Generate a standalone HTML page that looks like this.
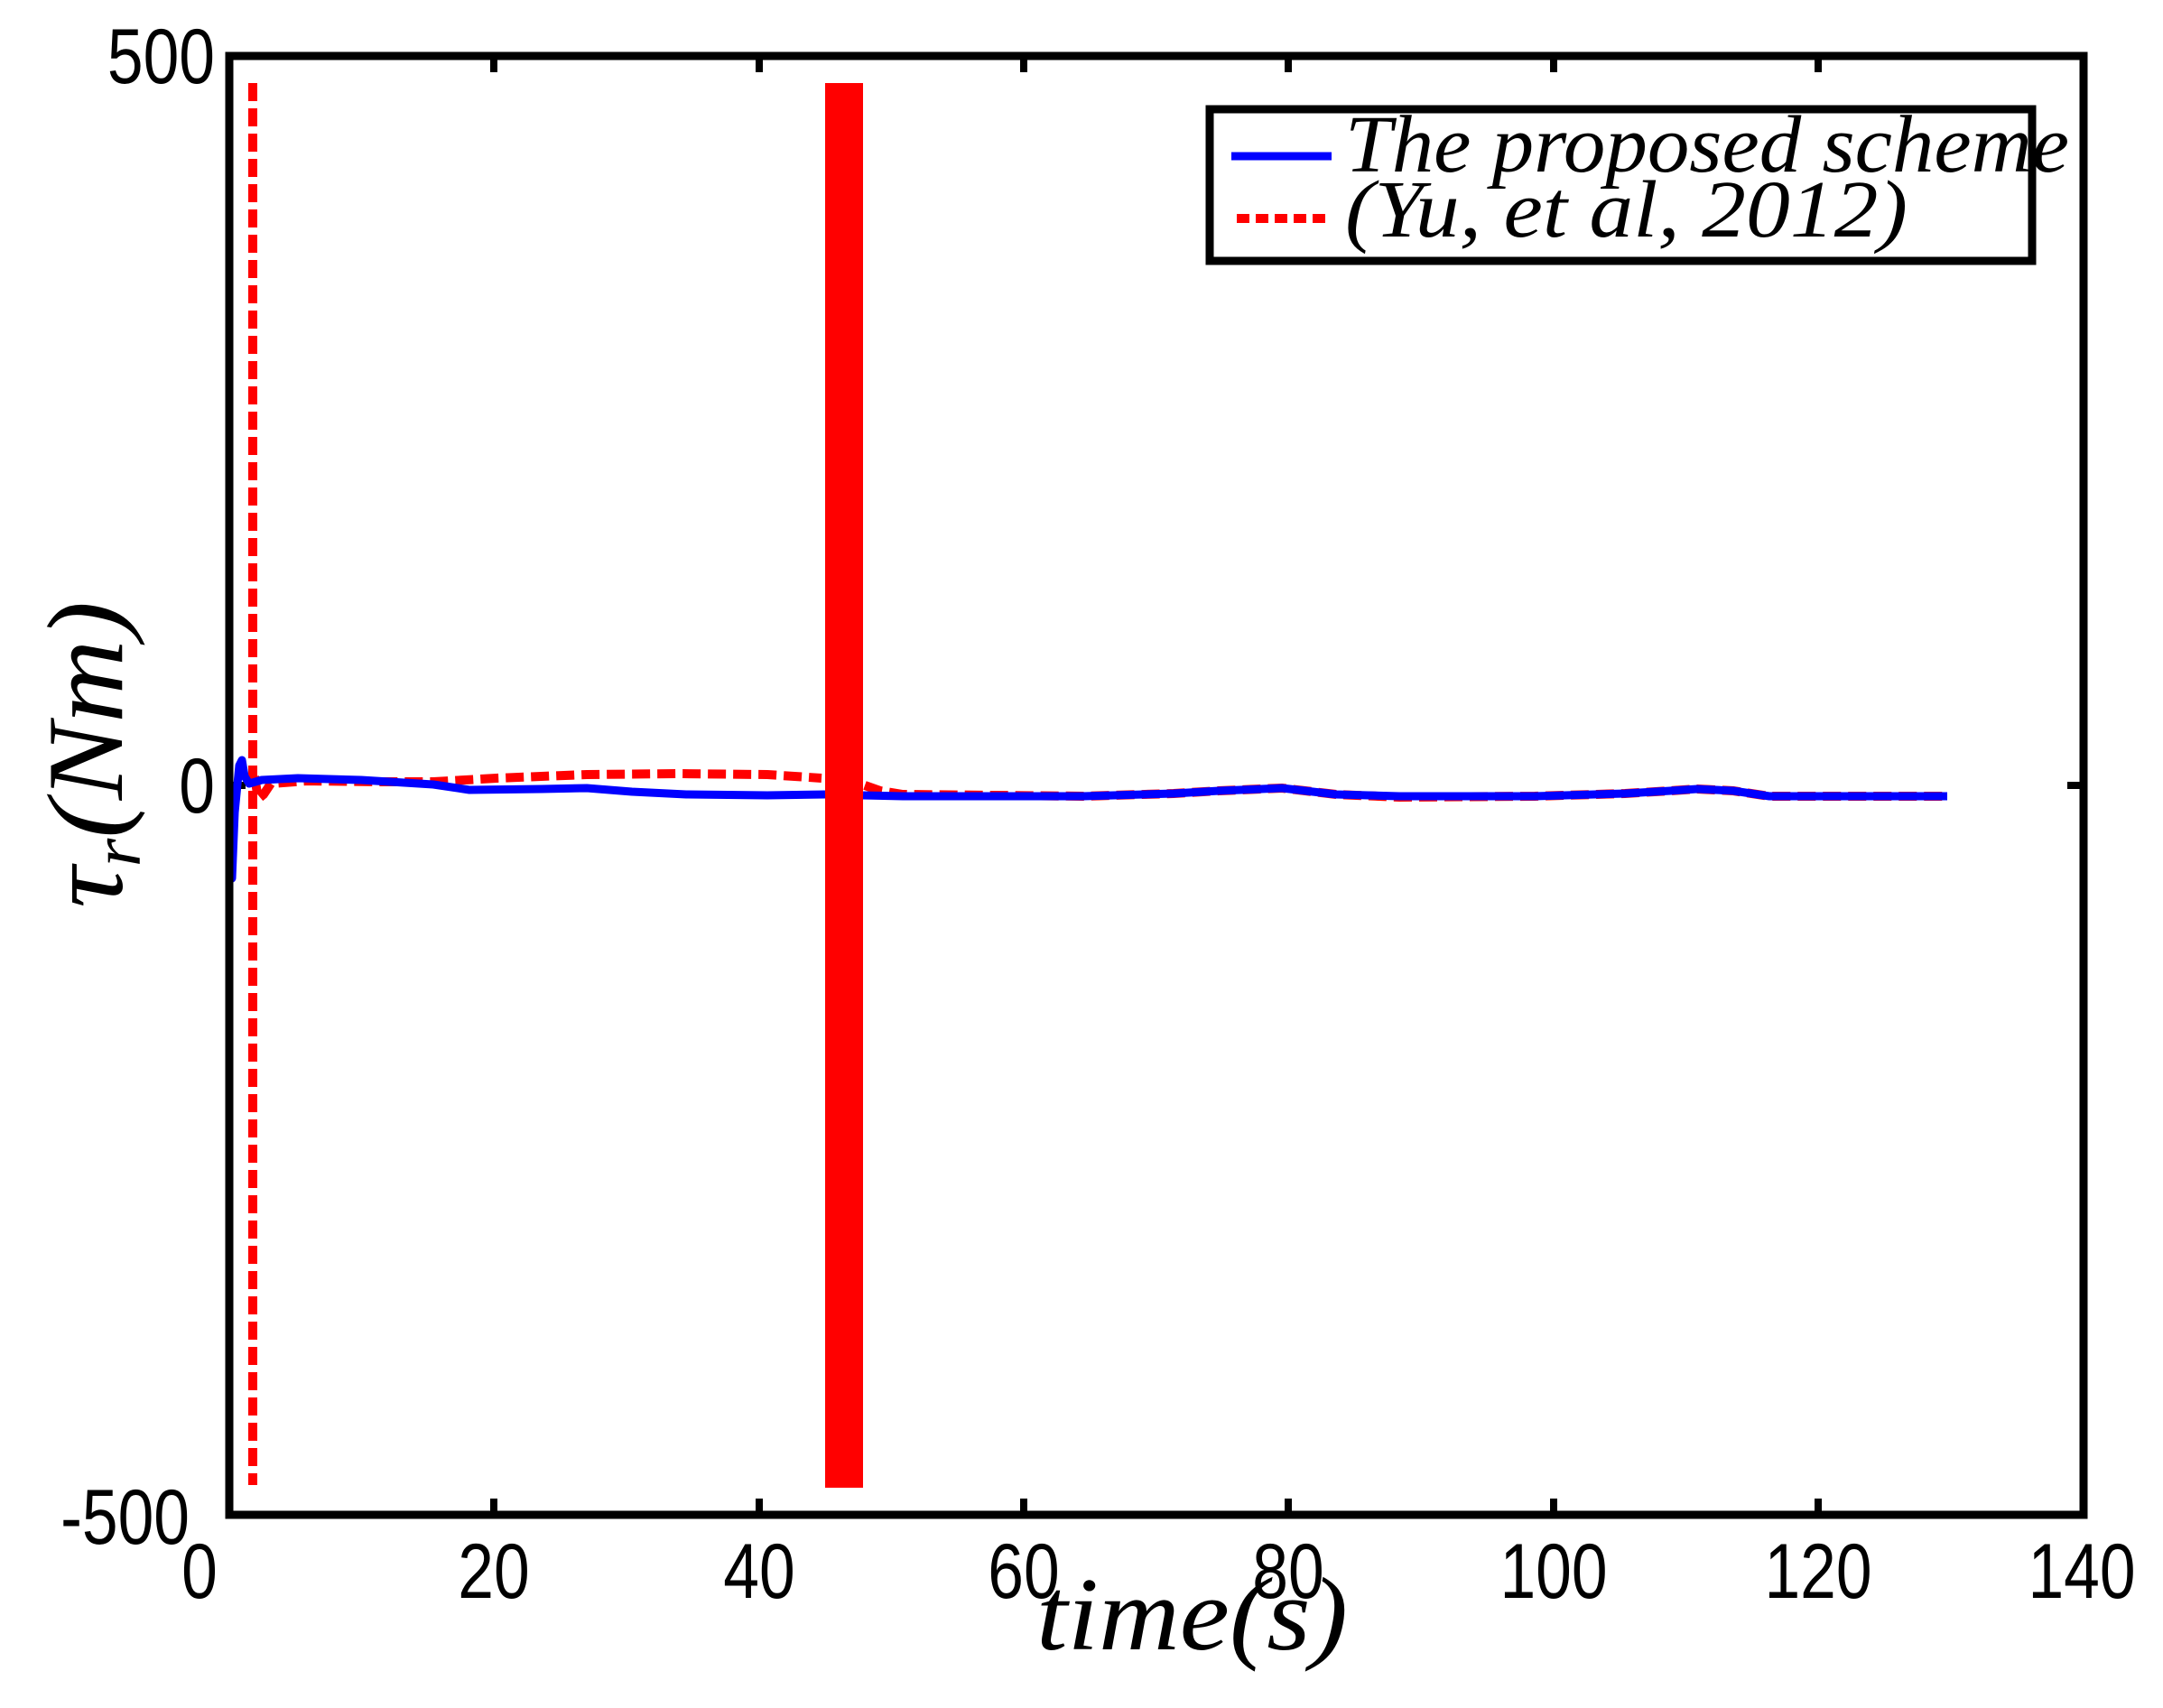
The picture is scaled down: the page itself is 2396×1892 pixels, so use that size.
<!DOCTYPE html>
<html><head><meta charset="utf-8"><style>
html,body{margin:0;padding:0;background:#fff;}
svg{display:block;}
.t{font-family:"Liberation Sans",sans-serif;font-size:86px;fill:#000;}
.s{font-family:"Liberation Serif",serif;font-style:italic;fill:#000;}
</style></head><body>
<svg width="2396" height="1892" viewBox="0 0 2396 1892" xmlns="http://www.w3.org/2000/svg">
<rect width="2396" height="1892" fill="#fff"/>
<g stroke="#000" stroke-width="8">
<line x1="547" y1="1678" x2="547" y2="1660"/><line x1="841" y1="1678" x2="841" y2="1660"/>
<line x1="1134" y1="1678" x2="1134" y2="1660"/><line x1="1427" y1="1678" x2="1427" y2="1660"/>
<line x1="1721" y1="1678" x2="1721" y2="1660"/><line x1="2014" y1="1678" x2="2014" y2="1660"/>
<line x1="547" y1="62" x2="547" y2="80"/><line x1="841" y1="62" x2="841" y2="80"/>
<line x1="1134" y1="62" x2="1134" y2="80"/><line x1="1427" y1="62" x2="1427" y2="80"/>
<line x1="1721" y1="62" x2="1721" y2="80"/><line x1="2014" y1="62" x2="2014" y2="80"/>
<line x1="254" y1="870" x2="272" y2="870"/><line x1="2308" y1="870" x2="2290" y2="870"/>
</g>
<g fill="none" stroke="#ff0000" stroke-width="10" stroke-dasharray="20 8">
<line x1="280" y1="92" x2="280" y2="1645"/>
<path d="M282,860 L286,885 L292,880 L300,868 L340,865 L420,866 L480,866 L550,862 L650,858 L750,857 L850,858 L910,862 M958,870 L975,876 L1000,880 L1200,882 L1300,879 L1350,876 L1420,873 L1480,880 L1550,883 L1700,882 L1800,879 L1850,876 L1880,874 L1920,876 L1960,882 L2157,882"/>
</g>
<rect x="914" y="92" width="42" height="1556" fill="#ff0000"/>
<path d="M256,960 L257,973 L260,900 L265,848 L268,842 L271,860 L276,868 L290,864 L330,862 L400,864 L480,869 L520,875 L600,874 L650,873 L700,877 L760,880 L850,881 L914,880 M956,881 L1000,882 L1200,882 L1300,879 L1350,876 L1420,873 L1480,880 L1550,882 L1700,882 L1800,879 L1850,876 L1880,874 L1920,876 L1960,882 L2157,882" fill="none" stroke="#0000ff" stroke-width="9" stroke-linejoin="round"/>
<rect x="254" y="62" width="2054" height="1616" fill="none" stroke="#000" stroke-width="9"/>
<g class="t" text-anchor="end">
<text x="238" y="92" transform="translate(238,0) scale(0.83,1) translate(-238,0)">500</text>
<text x="238" y="900" transform="translate(238,0) scale(0.83,1) translate(-238,0)">0</text>
<text x="210" y="1710" transform="translate(210,0) scale(0.83,1) translate(-210,0)">-500</text>
</g>
<g class="t" text-anchor="middle">
<text x="221" y="1770" transform="translate(221,0) scale(0.83,1) translate(-221,0)">0</text>
<text x="547" y="1770" transform="translate(547,0) scale(0.83,1) translate(-547,0)">20</text>
<text x="841" y="1770" transform="translate(841,0) scale(0.83,1) translate(-841,0)">40</text>
<text x="1134" y="1770" transform="translate(1134,0) scale(0.83,1) translate(-1134,0)">60</text>
<text x="1427" y="1770" transform="translate(1427,0) scale(0.83,1) translate(-1427,0)">80</text>
<text x="1721" y="1770" transform="translate(1721,0) scale(0.83,1) translate(-1721,0)">100</text>
<text x="2014" y="1770" transform="translate(2014,0) scale(0.83,1) translate(-2014,0)">120</text>
<text x="2306" y="1770" transform="translate(2306,0) scale(0.83,1) translate(-2306,0)">140</text>
</g>
<text class="s" x="1148" y="1827" font-size="115" textLength="345" lengthAdjust="spacingAndGlyphs">time(s)</text>
<g transform="translate(135,836) rotate(-90)">
<text class="s" x="-170" y="0" font-size="120" textLength="340" lengthAdjust="spacingAndGlyphs">τ<tspan font-size="76" dy="20">r</tspan><tspan dy="-20">(Nm)</tspan></text>
</g>
<rect x="1340" y="121" width="911" height="168" fill="#fff" stroke="#000" stroke-width="9"/>
<line x1="1364" y1="173" x2="1475" y2="173" stroke="#0000ff" stroke-width="9"/>
<line x1="1370" y1="242" x2="1475" y2="242" stroke="#ff0000" stroke-width="10" stroke-dasharray="14 7"/>
<text class="s" x="1490" y="190" font-size="90" textLength="802" lengthAdjust="spacingAndGlyphs">The proposed scheme</text>
<text class="s" x="1490" y="262" font-size="90" textLength="623" lengthAdjust="spacingAndGlyphs">(Yu, et al, 2012)</text>
</svg>
</body></html>
